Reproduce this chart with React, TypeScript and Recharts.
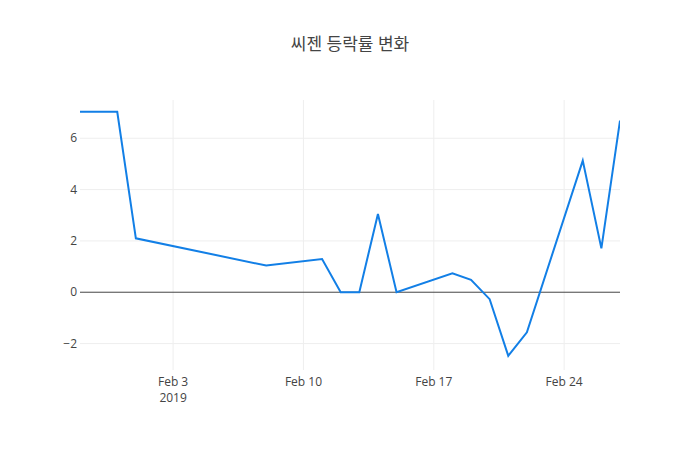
import React from "react";
import { LineChart, Line, XAxis, YAxis, ReferenceLine } from "recharts";

const dates = [
  "2019-01-29", "2019-01-31", "2019-02-01", "2019-02-08", "2019-02-11", "2019-02-12",
  "2019-02-13", "2019-02-14", "2019-02-15", "2019-02-18", "2019-02-19", "2019-02-20",
  "2019-02-21", "2019-02-22", "2019-02-25", "2019-02-26", "2019-02-27",
];
const changes = [
  7.03, 7.03, 2.1, 1.04, 1.29, 0, 0, 3.05, 0, 0.74, 0.48, -0.27, -2.48, -1.56, 5.13, 1.71, 6.69,
];
const xTickDates = ["2019-02-03", "2019-02-10", "2019-02-17", "2019-02-24"];
const xTickLabels = ["Feb 3", "Feb 10", "Feb 17", "Feb 24"];
const yTicks = [-2, 0, 2, 4, 6];
const title = "씨젠 등락률 변화";

const toTs = (s: string) => Date.parse(s + "T00:00:00Z");
const data = dates.map((d, i) => ({ t: toTs(d), v: changes[i] }));
const xTicks = xTickDates.map(toTs);

const FONT = "'Open Sans', 'Noto Sans CJK KR', sans-serif";

const XTick = (props: any) => {
  const { x, y, payload } = props;
  const idx = xTicks.indexOf(payload.value);
  const label = idx >= 0 ? xTickLabels[idx] : "";
  return (
    <g>
      <text x={x} y={y + 8} textAnchor="middle" fill="#444" fontSize={12} fontFamily={FONT}>
        {label}
      </text>
      {idx === 0 && (
        <text x={x} y={y + 24} textAnchor="middle" fill="#444" fontSize={12} fontFamily={FONT}>
          2019
        </text>
      )}
    </g>
  );
};

const YTick = (props: any) => {
  const { x, y, payload } = props;
  const v = payload.value as number;
  const label = v < 0 ? "\u2212" + Math.abs(v) : String(v);
  return (
    <text x={x + 6} y={y + 4} textAnchor="end" fill="#444" fontSize={12} fontFamily={FONT}>
      {label}
    </text>
  );
};

export default function App() {
  return (
    <div style={{ margin: -8, width: 700, height: 450, background: "#fff", position: "relative" }}>
      <div
        style={{
          position: "absolute",
          top: 30,
          left: 0,
          width: 700,
          textAlign: "center",
          fontFamily: FONT,
          fontSize: 17,
          color: "#444",
        }}
      >
        {title}
      </div>
      <LineChart
        width={700}
        height={450}
        data={data}
        margin={{ top: 100, right: 80, bottom: 50, left: 50 }}
      >
        <XAxis
          dataKey="t"
          type="number"
          scale="time"
          domain={[toTs("2019-01-29"), toTs("2019-02-27")]}
          ticks={xTicks}
          tick={<XTick />}
          axisLine={false}
          tickLine={false}
          height={30}
          allowDataOverflow
        />
        <YAxis
          type="number"
          domain={[-3.03, 7.49]}
          ticks={yTicks}
          tick={<YTick />}
          axisLine={false}
          tickLine={false}
          width={30}
          tickMargin={3}
          allowDataOverflow
        />
        {xTicks.map((t) => (
          <ReferenceLine key={"vx" + t} x={t} stroke="#eee" strokeWidth={1} />
        ))}
        {yTicks
          .filter((t) => t !== 0)
          .map((t) => (
            <ReferenceLine key={"hy" + t} y={t} stroke="#eee" strokeWidth={1} />
          ))}
        <ReferenceLine y={0} stroke="#444" strokeWidth={1} />
        <Line
          type="linear"
          dataKey="v"
          stroke="#127fe6"
          strokeWidth={2}
          dot={false}
          isAnimationActive={false}
        />
      </LineChart>
    </div>
  );
}
